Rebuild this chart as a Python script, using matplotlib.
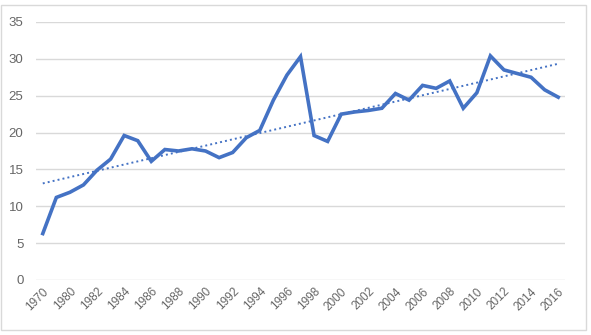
import numpy as np
import matplotlib.pyplot as plt
from matplotlib.patches import Rectangle

# categories (second one is unlabeled in the source chart)
years = ["1970", "1975"] + [str(y) for y in range(1980, 2017)]
values = [6.3, 11.2, 11.9, 12.9, 14.9, 16.4, 19.6, 18.9, 16.1, 17.7,
          17.5, 17.8, 17.5, 16.6, 17.3, 19.3, 20.3, 24.4, 27.8, 30.3,
          19.6, 18.8, 22.5, 22.8, 23.0, 23.3, 25.3, 24.4, 26.4, 26.0,
          27.0, 23.3, 25.4, 30.4, 28.5, 28.0, 27.5, 25.8, 24.8]
yticks = [0, 5, 10, 15, 20, 25, 30, 35]

blue = "#4472C4"
grey_txt = "#666666"

fig = plt.figure(figsize=(5.91, 3.35), dpi=100)
fig.patches.append(Rectangle((1 / 591, 1 - 330 / 335), 585 / 591, 325 / 335,
                             transform=fig.transFigure, fill=False,
                             edgecolor="#d9d9d9", linewidth=1))

ax = fig.add_axes([36 / 591, 1 - 280 / 335, 529 / 591, 258 / 335])
x = np.arange(len(years))
ax.plot(x, values, color=blue, linewidth=2.6, solid_joinstyle="miter", zorder=3)

# linear trendline (like Excel)
k, b = np.polyfit(x, values, 1)
ax.plot(x, k * x + b, color=blue, linewidth=1.4, linestyle=(0, (1, 1.6)), zorder=2)

ax.set_xlim(-0.5, len(years) - 0.5)
ax.set_ylim(0, 35)
ax.set_yticks(yticks)
ax.yaxis.grid(True, color="#d9d9d9", linewidth=1)
ax.set_axisbelow(True)
for s in ax.spines.values():
    s.set_visible(False)

labels = [y if i % 2 == 0 else "" for i, y in enumerate(years)]
ax.set_xticks(x)
ax.set_xticklabels(labels, rotation=45, ha="right", rotation_mode="anchor")
ax.tick_params(axis="x", length=0, colors=grey_txt, labelsize=8.5, pad=4)
ax.tick_params(axis="y", length=0, colors=grey_txt, labelsize=9.5, pad=9)
for t in ax.get_xticklabels() + ax.get_yticklabels():
    t.set_fontfamily("Liberation Sans")

fig.savefig("out.png", dpi=100)
